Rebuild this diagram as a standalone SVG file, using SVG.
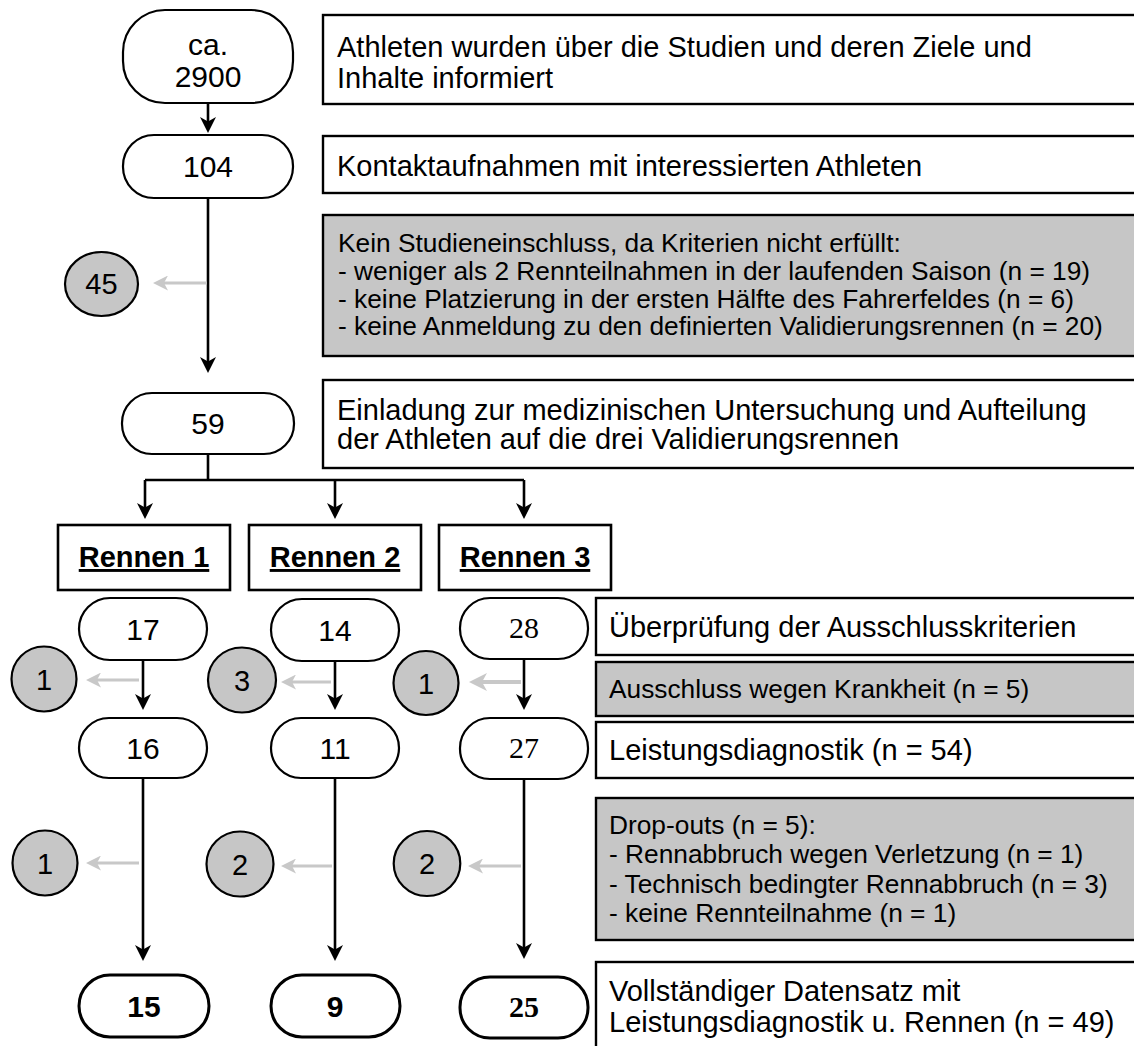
<svg xmlns="http://www.w3.org/2000/svg" width="1134" height="1046" viewBox="0 0 1134 1046">
<defs>
<style>
text{font-family:"Liberation Sans",Arial,sans-serif;fill:#000}
.node{fill:#fff;stroke:#000;stroke-width:2.2}
.bold{stroke-width:3}
.rb{fill:#fff;stroke:#000;stroke-width:2.4}
.rg{fill:#c6c6c6;stroke:#000;stroke-width:2.4}
.rn{fill:#fff;stroke:#000;stroke-width:2.6}
.circ{fill:#c6c6c6;stroke:#000;stroke-width:2.2}
.t29{font-size:29px}
.t26{font-size:26.3px}
.num{font-size:30px;text-anchor:middle}
.cnum{font-size:29px;text-anchor:middle}
.ser{font-family:"Liberation Serif","Times New Roman",serif;font-size:30px;text-anchor:middle}
.bnum{font-weight:bold}
.ren{font-size:29px;font-weight:bold;text-anchor:middle;text-decoration:underline}
.arr{fill:none;stroke:#000;stroke-width:2.6;marker-end:url(#ah)}
.ln{fill:none;stroke:#000;stroke-width:2.6}
.garr{fill:none;stroke:#c8c8c8;stroke-width:3;marker-end:url(#gh)}
.garr2{fill:none;stroke:#c8c8c8;stroke-width:4;marker-end:url(#gh2)}
</style>
<marker id="ah" markerUnits="userSpaceOnUse" viewBox="0 0 16 16" refX="10" refY="8" markerWidth="16" markerHeight="16" orient="auto">
<path d="M0,0 L16,8 L0,16 L4.5,8 Z" fill="#000"/>
</marker>
<marker id="gh" markerUnits="userSpaceOnUse" viewBox="0 0 15 15" refX="9" refY="7.5" markerWidth="15" markerHeight="15" orient="auto">
<path d="M0,0 L15,7.5 L0,15 L4,7.5 Z" fill="#c8c8c8"/>
</marker>
<marker id="gh2" markerUnits="userSpaceOnUse" viewBox="0 0 18 18" refX="11" refY="9" markerWidth="18" markerHeight="18" orient="auto">
<path d="M0,0 L18,9 L0,18 L5,9 Z" fill="#c8c8c8"/>
</marker>
</defs>
<rect width="1134" height="1046" fill="#fff"/>

<g id="connectors">
<path class="arr" d="M208,103 V127"/>
<path class="arr" d="M208,198 V367"/>
<path class="garr" d="M207,283 H159"/>
<path class="ln" d="M208,454 V480 M145,480 H524"/>
<path class="arr" d="M145,480 V513"/>
<path class="arr" d="M335,480 V513"/>
<path class="arr" d="M524,480 V513"/>
<path class="arr" d="M143,660 V704"/>
<path class="arr" d="M335,661 V704"/>
<path class="arr" d="M524,659 V704"/>
<path class="garr" d="M139,680 H92"/>
<path class="garr" d="M331,682 H287"/>
<path class="garr2" d="M521,682 H476"/>
<path class="arr" d="M143,778 V955"/>
<path class="arr" d="M335,778 V955"/>
<path class="arr" d="M524,779 V953"/>
<path class="garr" d="M139,863 H92"/>
<path class="garr" d="M332,866 H287"/>
<path class="garr" d="M521,866 H474"/>
</g>

<g id="n2900"><rect class="node" x="123" y="10" width="170" height="93" rx="42"/><text class="num" x="208" y="55">ca.</text><text class="num" x="208" y="87">2900</text></g>
<g id="n104"><rect class="node" x="123" y="135" width="170" height="63" rx="31"/><text class="num" x="208" y="177">104</text></g>
<g id="c45"><ellipse class="circ" cx="101.5" cy="284" rx="36.5" ry="32"/><text class="cnum" x="101.5" y="294">45</text></g>
<g id="n59"><rect class="node" x="122" y="393" width="172" height="61" rx="30"/><text class="num" x="208" y="434">59</text></g>

<g id="r1"><rect class="rn" x="58" y="525" width="172" height="65"/><text class="ren" x="144" y="567">Rennen 1</text></g>
<g id="r2"><rect class="rn" x="249" y="525" width="172" height="65"/><text class="ren" x="335" y="567">Rennen 2</text></g>
<g id="r3"><rect class="rn" x="439" y="525" width="172" height="65"/><text class="ren" x="525" y="567">Rennen 3</text></g>

<g id="n17"><rect class="node" x="79" y="598" width="128" height="62" rx="31"/><text class="num" x="143" y="640">17</text></g>
<g id="n14"><rect class="node" x="271" y="599" width="128" height="62" rx="31"/><text class="num" x="335" y="641">14</text></g>
<g id="n28"><rect class="node" x="460" y="598" width="128" height="61" rx="30"/><text class="ser" x="524" y="638">28</text></g>

<g id="c1a"><ellipse class="circ" cx="44" cy="679" rx="32.5" ry="32.5"/><text class="cnum" x="44" y="689.5">1</text></g>
<g id="c3"><ellipse class="circ" cx="242" cy="680" rx="34" ry="32.5"/><text class="cnum" x="242" y="690.5">3</text></g>
<g id="c1b"><ellipse class="circ" cx="426" cy="683" rx="32.5" ry="32"/><text class="cnum" x="426" y="693.5">1</text></g>

<g id="n16"><rect class="node" x="79" y="718" width="128" height="60" rx="30"/><text class="num" x="143" y="759">16</text></g>
<g id="n11"><rect class="node" x="271" y="718" width="128" height="60" rx="30"/><text class="num" x="335" y="759">11</text></g>
<g id="n27"><rect class="node" x="460" y="718" width="128" height="61" rx="30"/><text class="ser" x="524" y="758">27</text></g>

<g id="c1c"><ellipse class="circ" cx="45" cy="863" rx="32.5" ry="32.5"/><text class="cnum" x="45" y="873.5">1</text></g>
<g id="c2a"><ellipse class="circ" cx="240" cy="864" rx="33.5" ry="32.5"/><text class="cnum" x="240" y="874.5">2</text></g>
<g id="c2b"><ellipse class="circ" cx="427" cy="863.5" rx="33.3" ry="32.5"/><text class="cnum" x="427" y="874">2</text></g>

<g id="n15"><rect class="node bold" x="79" y="975" width="130" height="62" rx="31"/><text class="num bnum" x="144" y="1017">15</text></g>
<g id="n9"><rect class="node bold" x="271" y="975" width="129" height="62" rx="31"/><text class="num bnum" x="335" y="1017">9</text></g>
<g id="n25"><rect class="node bold" x="460" y="977" width="128" height="61" rx="30"/><text class="ser bnum" x="524" y="1017">25</text></g>

<g id="b1"><rect class="rb" x="323" y="15" width="830" height="89"/><text class="t29" x="337" y="57">Athleten wurden über die Studien und deren Ziele und</text><text class="t29" x="337" y="88">Inhalte informiert</text></g>
<g id="b2"><rect class="rb" x="323" y="136" width="830" height="57"/><text class="t29" x="337" y="176">Kontaktaufnahmen mit interessierten Athleten</text></g>
<g id="b3"><rect class="rg" x="323" y="215" width="830" height="141"/><text class="t26" x="338" y="252">Kein Studieneinschluss, da Kriterien nicht erfüllt:</text><text class="t26" x="338" y="280">- weniger als 2 Rennteilnahmen in der laufenden Saison (n = 19)</text><text class="t26" x="338" y="307.5">- keine Platzierung in der ersten Hälfte des Fahrerfeldes (n = 6)</text><text class="t26" x="338" y="335">- keine Anmeldung zu den definierten Validierungsrennen (n = 20)</text></g>
<g id="b4"><rect class="rb" x="323" y="380" width="830" height="88"/><text class="t29" x="337" y="420">Einladung zur medizinischen Untersuchung und Aufteilung</text><text class="t29" x="337" y="449">der Athleten auf die drei Validierungsrennen</text></g>
<g id="b5"><rect class="rb" x="596" y="598" width="560" height="57"/><text class="t29" x="609" y="637">Überprüfung der Ausschlusskriterien</text></g>
<g id="b6"><rect class="rg" x="596" y="662" width="560" height="54"/><text class="t26" x="609" y="698">Ausschluss wegen Krankheit (n = 5)</text></g>
<g id="b7"><rect class="rb" x="596" y="722" width="560" height="56"/><text class="t29" x="609" y="760">Leistungsdiagnostik (n = 54)</text></g>
<g id="b8"><rect class="rg" x="596" y="798" width="560" height="142"/><text class="t26" x="609" y="834">Drop-outs (n = 5):</text><text class="t26" x="609" y="863">- Rennabbruch wegen Verletzung (n = 1)</text><text class="t26" x="609" y="893">- Technisch bedingter Rennabbruch (n = 3)</text><text class="t26" x="609" y="922">- keine Rennteilnahme (n = 1)</text></g>
<g id="b9"><rect class="rb" x="596" y="962" width="560" height="110"/><text class="t29" x="609" y="1001">Vollständiger Datensatz mit</text><text class="t29" x="609" y="1032">Leistungsdiagnostik u. Rennen (n = 49)</text></g>
</svg>
